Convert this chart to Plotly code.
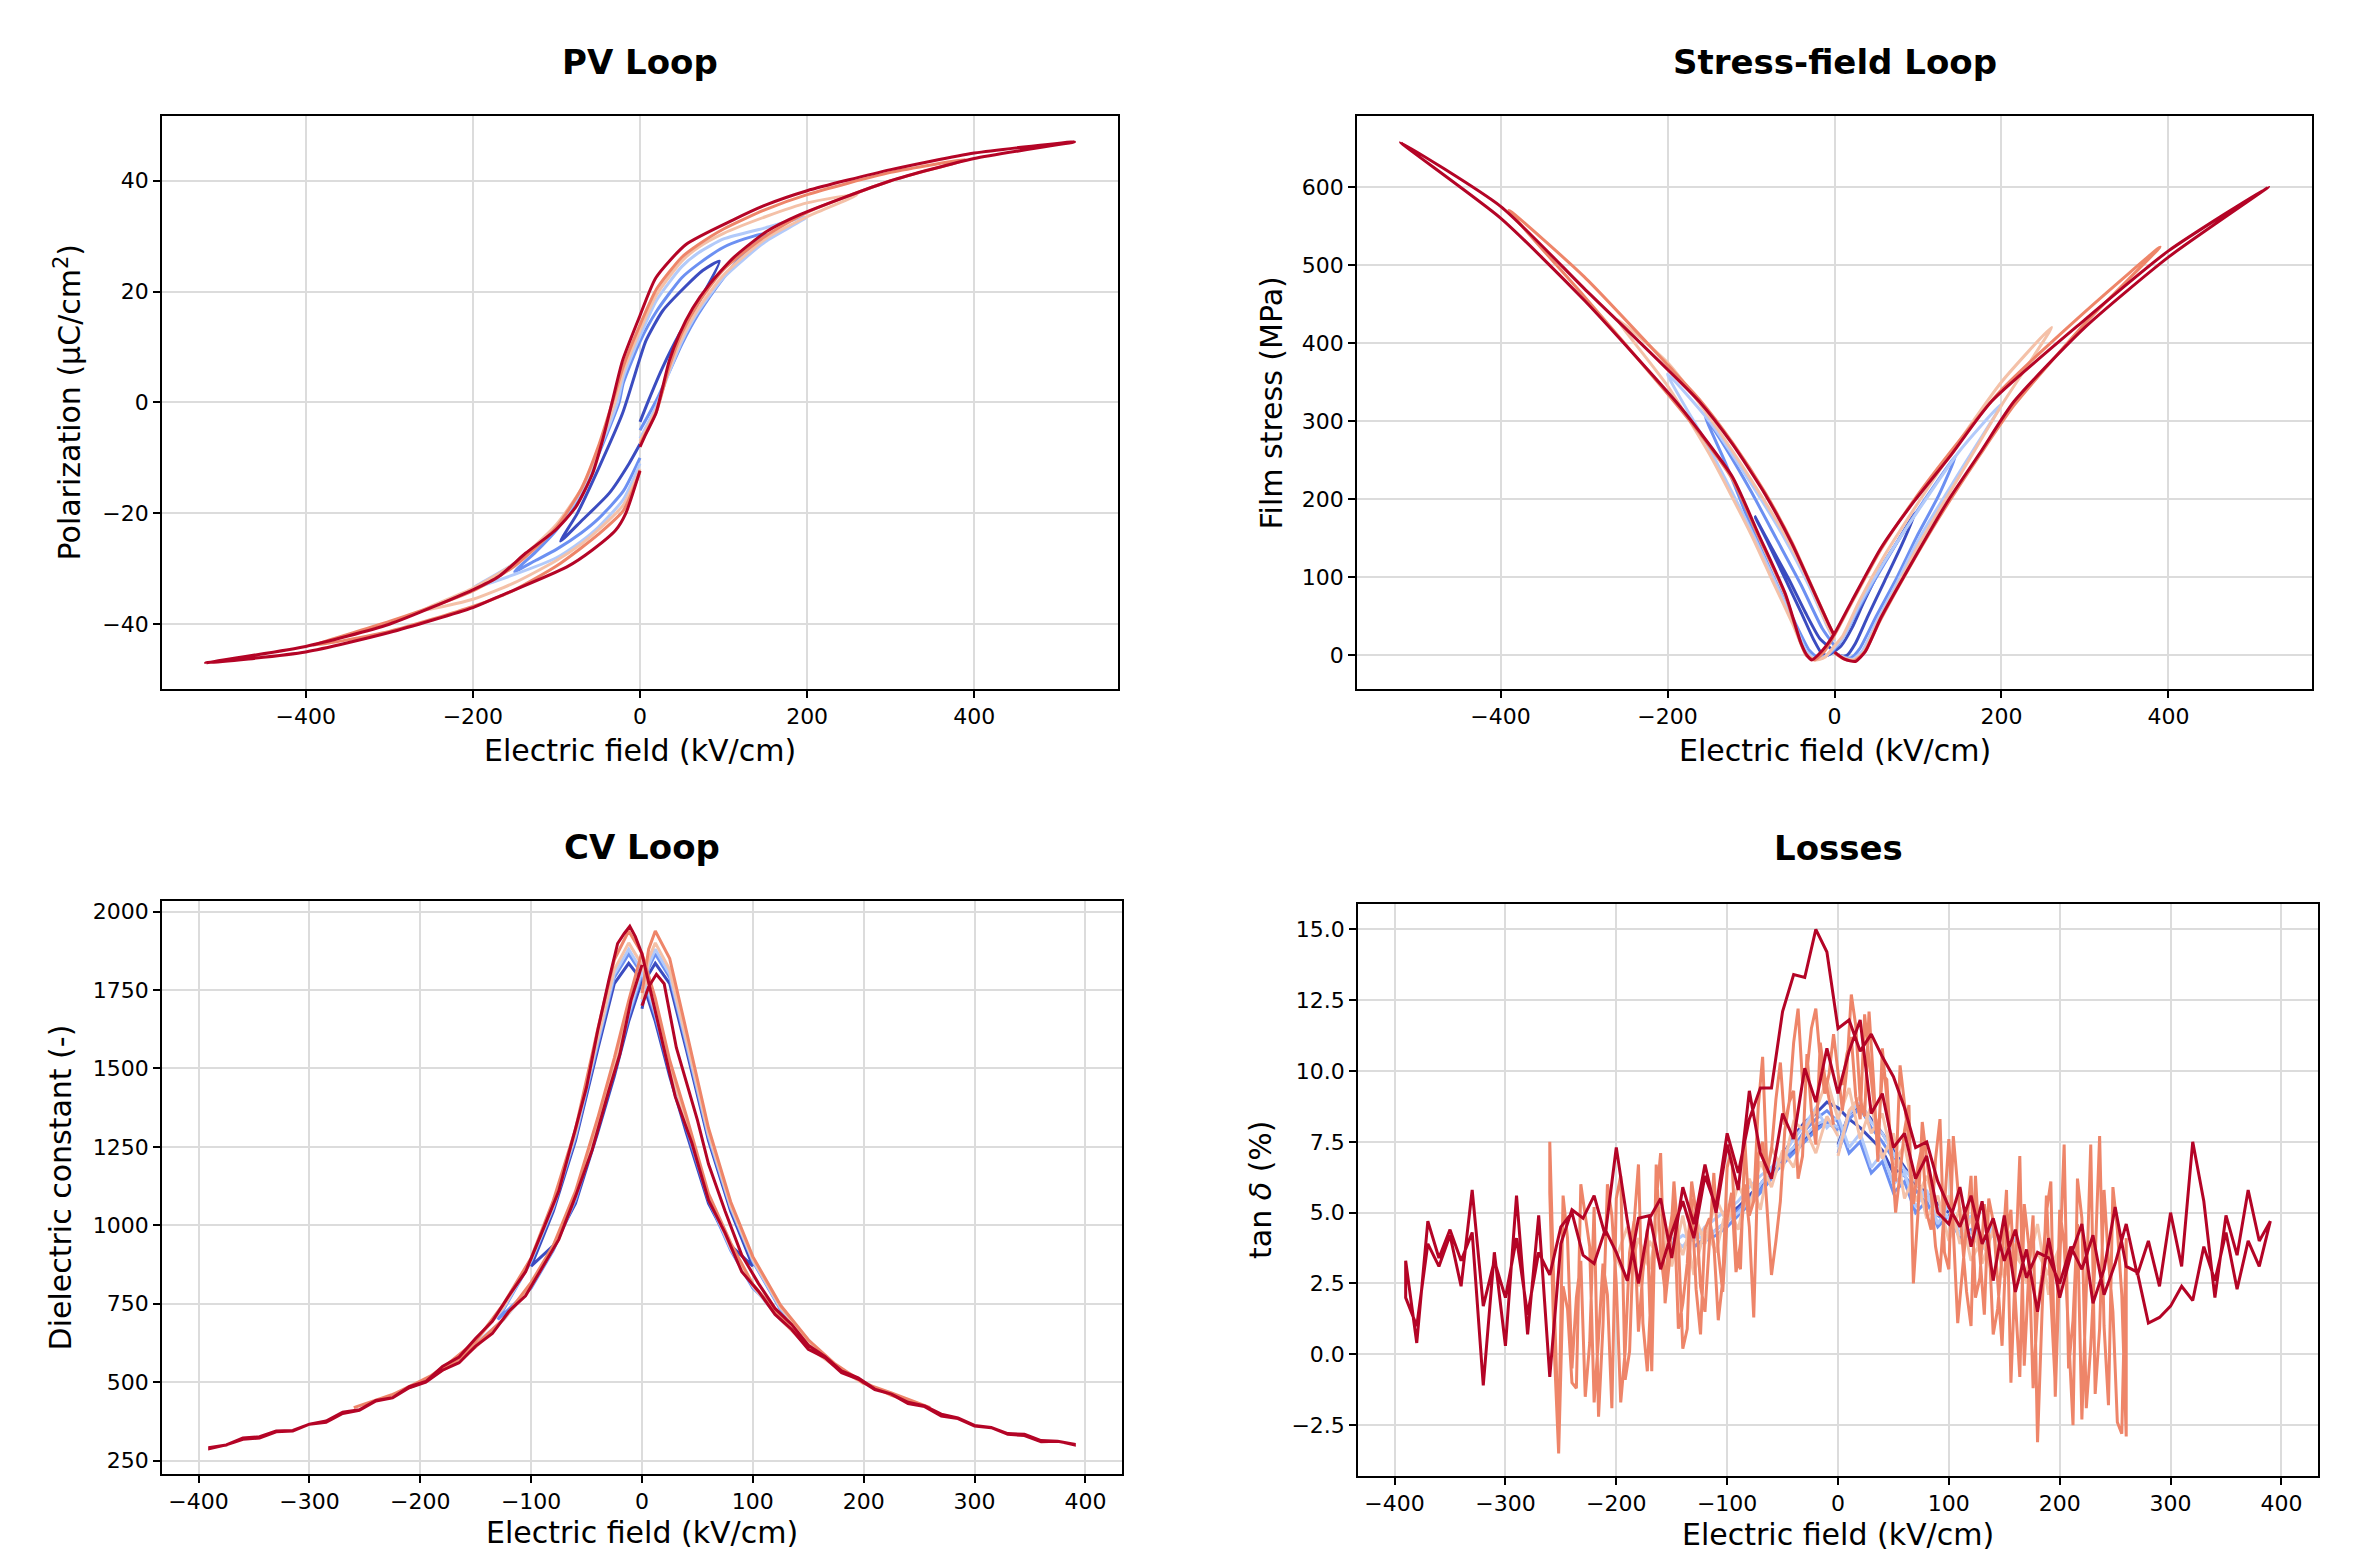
import plotly.graph_objects as go

W, H = 2359, 1554

# coolwarm colours, one per cycle (smallest field amplitude first)
cycle_colors = ["#3b4cc0", "#6c90f2", "#b2cafa", "#f4c1a8", "#ee8569", "#b40426"]

# ---------------- PV loop: field (kV/cm) -> polarization (uC/cm2)
pv_e_0 = [0, 10, 27, 47, 71, 95, 75, 55, 27, 7, 0, -21, -49, -75, -95, -69, -37, -13, 0]
pv_p_0 = [-3.5, 0.3, 6.3, 12.3, 18.3, 25.5, 23.8, 21.0, 16.5, 11.1, 8.0, -2.0, -11.7, -20.0, -25.0, -21.2, -16.4, -11.0, -7.5]
pv_e_1 = [0, 20, 35, 50, 70, 100, 125, 150, 125, 100, 70, 50, 20, 0, -20, -25, -50, -70, -100, -125, -150, -125, -100, -70, -50, -20, 0]
pv_p_1 = [-5.0, 0.5, 5.5, 10.5, 16.0, 22.5, 27.0, 30.5, 29.5, 28.0, 25.0, 22.5, 16.5, 11.0, 3.5, 0.0, -9.5, -16.5, -23.0, -27.0, -30.5, -28.5, -26.5, -23.5, -21.0, -16.0, -10.0]
pv_e_2 = [0, 20, 35, 50, 70, 100, 150, 200, 150, 100, 70, 50, 20, 0, -20, -27, -50, -70, -100, -150, -200, -150, -100, -70, -50, -20, 0]
pv_p_2 = [-6.5, -0.5, 5.5, 11.0, 16.5, 22.5, 29.0, 33.5, 31.5, 29.5, 27.0, 24.5, 18.5, 12.0, 4.5, 0.0, -9.0, -16.0, -22.5, -29.0, -33.5, -31.0, -28.0, -25.0, -22.5, -17.5, -11.0]
pv_e_3 = [0, 20, 35, 50, 70, 100, 150, 200, 260, 200, 150, 100, 70, 50, 20, 0, -20, -30, -50, -70, -100, -150, -200, -260, -200, -150, -100, -70, -50, -20, 0]
pv_p_3 = [-7.0, -1.0, 6.0, 11.5, 17.0, 23.0, 29.5, 33.5, 37.5, 36.0, 33.5, 30.5, 28.0, 25.5, 19.5, 13.0, 5.5, 0.0, -8.5, -15.5, -22.0, -29.0, -33.5, -37.5, -35.5, -32.5, -28.5, -25.5, -23.0, -18.5, -12.0]
pv_e_4 = [0, 20, 35, 50, 70, 100, 150, 200, 300, 390, 300, 200, 150, 100, 70, 50, 20, 0, -20, -33, -50, -70, -100, -150, -200, -300, -390, -300, -200, -150, -100, -70, -50, -20, 0]
pv_p_4 = [-7.5, -1.5, 6.5, 12.5, 18.0, 24.0, 30.0, 34.3, 40.0, 43.8, 41.5, 37.5, 34.8, 31.3, 28.5, 26.2, 20.5, 14.0, 6.5, 0.0, -8.0, -15.5, -22.5, -29.5, -34.0, -39.5, -43.8, -41.3, -36.8, -33.8, -29.5, -26.2, -23.8, -19.5, -12.5]
pv_e_5 = [0, 7, 19, 27, 35, 47, 63, 83, 111, 151, 190, 300, 400, 520, 400, 300, 200, 150, 111, 55, 19, -1, -21, -33, -45, -57, -77, -101, -137, -169, -200, -300, -400, -520, -400, -300, -200, -169, -88, -57, -29, -17, 0]
pv_p_5 = [-8.0, -5.7, -2.0, 2.7, 7.5, 12.3, 17.0, 21.3, 26.0, 30.8, 33.8, 40.0, 44.0, 47.0, 45.0, 42.0, 38.2, 35.6, 32.9, 28.5, 22.5, 15.3, 7.5, 0.3, -6.9, -12.9, -18.9, -23.0, -27.2, -31.4, -33.8, -40.0, -44.0, -47.0, -45.0, -41.5, -37.0, -35.0, -29.7, -26.6, -23.0, -20.0, -12.3]
pv_e = [pv_e_0, pv_e_1, pv_e_2, pv_e_3, pv_e_4, pv_e_5]
pv_p = [pv_p_0, pv_p_1, pv_p_2, pv_p_3, pv_p_4, pv_p_5]

# ---------------- Stress-field loop: field (kV/cm) -> film stress (MPa)
st_e_0 = [0, 8, 15, 25, 40, 60, 80, 97, 75, 56, 35, 21, 8, 0, -8, -15, -25, -40, -60, -80, -95, -75, -55, -35, -18, -7, 0]
st_s_0 = [3, -1, 0, 15, 50, 95, 140, 183, 145, 113, 68, 35, 12, 5, 0, 2, 20, 55, 100, 145, 177, 137, 98, 55, 22, 11, 5]
st_e_1 = [0, 10, 20, 30, 50, 75, 100, 125, 145, 120, 90, 60, 30, 10, 0, -10, -20, -30, -50, -75, -100, -130, -155, -130, -100, -70, -40, -15, 0]
st_s_1 = [3, -2, -3, 8, 50, 100, 155, 205, 255, 218, 170, 118, 62, 22, 8, -1, -3, 6, 48, 105, 165, 245, 306, 265, 210, 150, 90, 35, 12]
st_e_2 = [0, 12, 22, 33, 50, 75, 100, 150, 200, 150, 100, 60, 30, 10, 0, -12, -22, -33, -50, -75, -100, -150, -200, -150, -100, -60, -30, -10, 0]
st_s_2 = [3, -3, -5, 5, 42, 93, 147, 235, 322, 262, 185, 120, 65, 22, 10, -2, -5, 4, 45, 103, 160, 265, 360, 300, 220, 150, 88, 40, 18]
st_e_3 = [0, 12, 23, 35, 50, 75, 100, 150, 200, 260, 200, 150, 100, 60, 30, 10, 0, -12, -23, -35, -50, -75, -100, -150, -200, -260, -200, -150, -100, -60, -30, -10, 0]
st_s_3 = [3, -4, -6, 4, 38, 88, 140, 230, 320, 420, 350, 275, 195, 128, 70, 25, 12, -3, -6, 3, 40, 97, 155, 258, 345, 430, 375, 305, 225, 155, 92, 42, 20]
st_e_4 = [0, 12, 24, 36, 55, 95, 135, 175, 215, 300, 390, 300, 200, 140, 96, 56, 21, 0, -12, -24, -34, -45, -59, -91, -122, -162, -200, -300, -390, -300, -200, -162, -122, -83, -51, -27, -7, 0]
st_s_4 = [3, -5, -7, 4, 45, 122, 193, 258, 320, 425, 523, 440, 340, 262, 200, 136, 68, 26, 5, -6, 0, 30, 77, 152, 225, 285, 335, 460, 570, 485, 372, 328, 272, 208, 145, 88, 40, 24]
st_e_5 = [0, 12, 25, 37, 56, 96, 136, 176, 215, 300, 400, 520, 400, 300, 188, 140, 96, 56, 21, 0, -10, -20, -27, -33, -40, -48, -59, -91, -122, -162, -190, -300, -400, -520, -400, -300, -162, -122, -83, -51, -27, -7, 0]
st_s_5 = [4, -5, -8, 5, 49, 125, 198, 262, 325, 420, 510, 600, 518, 430, 325, 257, 198, 138, 70, 28, 12, 0, -6, 0, 15, 42, 79, 155, 228, 287, 325, 455, 560, 657, 575, 470, 325, 270, 206, 143, 87, 40, 25]
st_e = [st_e_0, st_e_1, st_e_2, st_e_3, st_e_4, st_e_5]
st_s = [st_s_0, st_s_1, st_s_2, st_s_3, st_s_4, st_s_5]

# ---------------- CV loop: field (kV/cm) -> dielectric constant
# each cycle: first rise from 0, sweep down to -Emax, back up to 0
cv_e_start_0 = [0, 6, 12, 25, 40, 60, 80, 100]
cv_v_start_0 = [1690, 1800, 1835, 1770, 1560, 1270, 1045, 870]
cv_e_desc_0 = [100, 80, 60, 40, 25, 12, 0, -12, -25, -40, -60, -80, -100]
cv_v_desc_0 = [870, 935, 1070, 1295, 1475, 1650, 1780, 1835, 1770, 1560, 1270, 1045, 870]
cv_e_asc_0 = [-100, -80, -60, -40, -25, -12, 0]
cv_v_asc_0 = [870, 935, 1070, 1295, 1475, 1650, 1780]

cv_e_start_1 = [0, 6, 12, 25, 40, 60, 80, 100, 130]
cv_v_start_1 = [1700, 1820, 1865, 1790, 1575, 1280, 1055, 885, 700]
cv_e_desc_1 = [130, 100, 80, 60, 40, 25, 12, 0, -12, -25, -40, -60, -80, -100, -130]
cv_v_desc_1 = [700, 800, 920, 1080, 1310, 1490, 1665, 1800, 1865, 1790, 1575, 1280, 1055, 885, 700]
cv_e_asc_1 = [-130, -100, -80, -60, -40, -25, -12, 0]
cv_v_asc_1 = [700, 800, 920, 1080, 1310, 1490, 1665, 1800]

cv_e_start_2 = [0, 6, 12, 25, 40, 60, 80, 100, 125, 160]
cv_v_start_2 = [1710, 1830, 1880, 1800, 1585, 1288, 1060, 888, 735, 595]
cv_e_desc_2 = [160, 125, 100, 80, 60, 40, 25, 12, 0, -12, -25, -40, -60, -80, -100, -125, -160]
cv_v_desc_2 = [595, 698, 805, 925, 1088, 1320, 1500, 1675, 1810, 1880, 1800, 1585, 1288, 1060, 888, 735, 595]
cv_e_asc_2 = [-160, -125, -100, -80, -60, -40, -25, -12, 0]
cv_v_asc_2 = [595, 698, 805, 925, 1088, 1320, 1500, 1675, 1810]

cv_e_start_3 = [0, 6, 12, 25, 40, 60, 80, 100, 125, 150, 175, 200]
cv_v_start_3 = [1720, 1850, 1900, 1815, 1595, 1295, 1065, 893, 740, 630, 552, 495]
cv_e_desc_3 = [200, 175, 150, 125, 100, 80, 60, 40, 25, 12, 0, -12, -25, -40, -60, -80, -100, -125, -150, -175, -200]
cv_v_desc_3 = [495, 548, 612, 700, 808, 930, 1095, 1330, 1510, 1690, 1830, 1900, 1815, 1595, 1295, 1065, 893, 740, 630, 552, 495]
cv_e_asc_3 = [-200, -175, -150, -125, -100, -80, -60, -40, -25, -12, 0]
cv_v_asc_3 = [495, 548, 612, 700, 808, 930, 1095, 1330, 1510, 1690, 1830]

cv_e_start_4 = [0, 6, 12, 25, 40, 60, 80, 100, 125, 150, 175, 200, 225, 260]
cv_v_start_4 = [1740, 1880, 1938, 1850, 1620, 1310, 1075, 900, 745, 635, 555, 500, 458, 419]
cv_e_desc_4 = [260, 225, 200, 175, 150, 125, 100, 80, 60, 40, 25, 12, 0, -12, -25, -40, -60, -80, -100, -125, -150, -175, -200, -225, -260]
cv_v_desc_4 = [419, 466, 497, 556, 611, 709, 812, 944, 1101, 1349, 1526, 1724, 1866, 1938, 1846, 1624, 1306, 1079, 896, 749, 631, 559, 497, 461, 419]
cv_e_asc_4 = [-260, -225, -200, -175, -150, -125, -100, -80, -60, -40, -25, -12, 0]
cv_v_asc_4 = [419, 460, 503, 548, 618, 701, 818, 936, 1108, 1341, 1533, 1716, 1872]

cv_e_start_5 = [0, 6, 13, 20, 31, 40, 50, 60, 75, 90, 105, 120, 135, 150, 165, 180, 195, 210, 225, 240, 255, 270, 285, 300, 315, 330, 345, 360, 375, 390]
cv_v_start_5 = [1700, 1760, 1800, 1770, 1566, 1460, 1335, 1195, 1045, 905, 815, 735, 684, 618, 582, 536, 514, 478, 462, 436, 424, 398, 386, 362, 356, 336, 334, 314, 312, 302]
cv_e_desc_5 = [390, 375, 360, 345, 330, 315, 300, 285, 270, 255, 240, 225, 210, 195, 180, 165, 150, 135, 120, 105, 90, 75, 60, 45, 30, 20, 10, 0,
               -6, -11, -16, -22, -30, -40, -50, -60, -75, -90, -105, -120, -135, -150, -165, -180, -195, -210, -225, -240, -255, -270, -285, -300, -315, -330, -345, -360, -375, -390]
cv_v_desc_5 = [300, 312, 310, 330, 334, 355, 360, 384, 392, 422, 432, 462, 476, 510, 530, 578, 605, 668, 716, 790, 852, 975, 1080, 1262, 1410, 1560, 1712, 1865,
               1920, 1953, 1930, 1898, 1780, 1620, 1440, 1310, 1110, 980, 852, 776, 694, 640, 580, 550, 502, 486, 450, 442, 412, 404, 376, 366, 346, 344, 326, 322, 300, 292]
cv_e_asc_5 = [-390, -375, -360, -345, -330, -315, -300, -285, -270, -255, -240, -225, -210, -195, -180, -165, -150, -135, -120, -105, -90, -75, -60, -45, -30, -20, -10, 0]
cv_v_asc_5 = [288, 300, 318, 322, 342, 344, 366, 372, 400, 410, 440, 450, 482, 500, 538, 562, 615, 655, 726, 775, 865, 955, 1092, 1240, 1428, 1545, 1716, 1830]

cv_e = [cv_e_start_0 + cv_e_desc_0 + cv_e_asc_0,
        cv_e_start_1 + cv_e_desc_1 + cv_e_asc_1,
        cv_e_start_2 + cv_e_desc_2 + cv_e_asc_2,
        cv_e_start_3 + cv_e_desc_3 + cv_e_asc_3,
        cv_e_start_4 + cv_e_desc_4 + cv_e_asc_4,
        cv_e_start_5 + cv_e_desc_5 + cv_e_asc_5]
cv_v = [cv_v_start_0 + cv_v_desc_0 + cv_v_asc_0,
        cv_v_start_1 + cv_v_desc_1 + cv_v_asc_1,
        cv_v_start_2 + cv_v_desc_2 + cv_v_asc_2,
        cv_v_start_3 + cv_v_desc_3 + cv_v_asc_3,
        cv_v_start_4 + cv_v_desc_4 + cv_v_asc_4,
        cv_v_start_5 + cv_v_desc_5 + cv_v_asc_5]

# ---------------- Losses: field grids (kV/cm) and tan delta (%)
loss_grid_10 = [390, 380, 370, 360, 350, 340, 330, 320, 310, 300, 290, 280, 270, 260, 250, 240, 230, 220, 210, 200,
                190, 180, 170, 160, 150, 140, 130, 120, 110, 100, 90, 80, 70, 60, 50, 40, 30, 20, 10, 0,
                -10, -20, -30, -40, -50, -60, -70, -80, -90, -100, -110, -120, -130, -140, -150, -160, -170, -180, -190, -200,
                -210, -220, -230, -240, -250, -260, -270, -280, -290, -300, -310, -320, -330, -340, -350, -360, -370, -380, -390]
loss_grid_4 = [260, 256, 252, 248, 244, 240, 236, 232, 228, 224, 220, 216, 212, 208, 204, 200, 196, 192, 188, 184,
               180, 176, 172, 168, 164, 160, 156, 152, 148, 144, 140, 136, 132, 128, 124, 120, 116, 112, 108, 104,
               100, 96, 92, 88, 84, 80, 76, 72, 68, 64, 60, 56, 52, 48, 44, 40, 36, 32, 28, 24, 20, 16, 12, 8, 4,
               -4, -8, -12, -16, -20, -24, -28, -32, -36, -40, -44, -48, -52, -56, -60, -64, -68, -72, -76, -80,
               -84, -88, -92, -96, -100, -104, -108, -112, -116, -120, -124, -128, -132, -136, -140, -144, -148, -152, -156, -160,
               -164, -168, -172, -176, -180, -184, -188, -192, -196, -200, -204, -208, -212, -216, -220, -224, -228, -232, -236, -240,
               -244, -248, -252, -256, -260]

tan_desc_0 = [5.0, 5.3, 5.7, 6.0, 6.6, 6.4, 7.2, 7.6, 8.0, 8.3, 8.7, 8.9, 8.5, 8.2, 7.7, 7.0, 6.5, 6.0, 5.6, 5.2, 4.9]
tan_asc_0 = [4.9, 5.1, 5.5, 5.9, 6.4, 6.8, 7.2, 7.6, 8.0, 8.2, 8.0]
tan_start_0 = [7.4, 8.5, 8.8, 8.3, 7.8, 7.2, 6.6, 6.1, 5.6, 5.3, 5.0]

tan_desc_1 = [3.9, 4.4, 4.1, 4.9, 4.5, 5.4, 5.0, 6.1, 5.7, 6.8, 6.4, 7.5, 7.1, 8.2, 8.6, 8.3, 7.9, 7.3, 6.8, 6.2, 5.7, 5.3, 4.9, 4.5, 4.2, 4.0, 3.8]
tan_asc_1 = [3.8, 4.1, 4.4, 4.7, 5.1, 5.5, 5.8, 6.3, 6.7, 7.1, 7.5, 7.9, 8.2, 7.9]
tan_start_1 = [7.1, 8.3, 8.7, 8.0, 7.5, 6.9, 6.3, 5.8, 5.3, 4.9, 4.6, 4.3, 4.1, 3.9]

tan_desc_2 = [4.1, 3.4, 4.6, 3.7, 4.9, 4.2, 5.3, 4.6, 5.8, 5.2, 6.4, 6.0, 7.1, 6.6, 7.8, 7.3, 8.4, 8.0, 8.7, 8.1,
              7.6, 7.0, 6.5, 6.0, 5.4, 5.0, 4.7, 4.4, 4.0, 4.3, 3.8, 4.1, 3.6]
tan_asc_2 = [3.6, 3.9, 4.2, 4.0, 4.5, 4.8, 5.1, 5.4, 5.9, 6.3, 6.6, 7.0, 7.3, 7.7, 8.1, 8.3, 8.0]
tan_start_2 = [7.3, 8.5, 8.9, 8.2, 7.8, 7.1, 6.5, 6.1, 5.5, 5.2, 4.8, 4.5, 4.3, 3.9, 4.2, 3.7, 4.1]

tan_desc_3 = [3.8, 2.1, 4.6, 2.9, 3.5, 4.8, 2.7, 4.1, 3.3, 5.2, 4.0, 5.6, 4.8, 6.4, 5.5, 7.8, 6.9, 8.8, 7.6, 9.4, 8.3,
              9.7, 8.6, 7.9, 8.2, 6.5, 7.3, 5.1, 6.2, 4.4, 5.3, 3.6, 4.5, 2.8, 4.9, 3.1, 5.2, 3.0, 4.1, 2.6, 3.4]
tan_asc_3 = [3.4, 4.5, 2.4, 4.0, 3.2, 4.7, 3.5, 5.0, 3.9, 5.5, 4.6, 6.0, 5.1, 6.8, 5.9, 7.2, 6.6, 8.0, 7.1, 8.4, 7.7]
tan_start_3 = [7.0, 8.6, 9.1, 7.8, 8.5, 6.7, 7.4, 5.4, 6.3, 4.9, 5.6, 3.9, 4.8, 3.2, 4.4, 2.7, 3.9, 2.5, 3.6, 2.8, 3.8]

tan_desc_4 = [-2.9, 2.1, 4.4, 5.9, -1.8, 1.0, 7.7, 3.4, 0.3, -1.9, 4.8, 6.2, -2.5, 0.8, 3.9, 5.1, -1.1, 2.0, 5.6, 1.4,
              -3.1, 4.9, 2.8, -0.4, 7.0, 3.1, -1.0, 5.8, 3.5, 1.6, 0.7, 4.2, 5.3, 2.7, 2.0, 6.3, 4.6, 3.0, 1.1, 4.4,
              7.6, 5.2, 2.9, 3.8, 5.7, 6.9, 8.2, 4.9, 2.5, 8.8, 7.9, 6.4, 5.0, 7.3, 9.1, 10.8, 6.8, 9.7, 12.1, 8.4,
              9.0, 11.6, 12.7, 10.1, 8.6,
              11.3, 9.9, 9.2, 10.4, 12.2, 11.5, 10.0, 9.6, 12.2, 11.0, 8.9, 8.1, 10.3, 9.0, 7.2, 6.4, 10.5, 8.7, 5.4, 4.9,
              7.5, 3.0, 3.6, 7.2, 6.6, 2.6, 1.2, 3.9, 4.8, 4.4, 0.7, 2.3, 5.5, 0.9, 0.2, 4.0, 6.1, 3.3, 1.8, 7.1,
              5.4, 2.7, -0.6, 1.1, 6.7, 4.6, 0.1, -0.9, 6.3, 5.5, -1.9, 2.1, 3.2, 0.6, -1.7, 3.8, 4.9, 6.0, -1.2, -1.0,
              1.6, 2.4, -3.5, 0.2, 5.7]
tan_asc_4 = [7.5, 1.9, -3.0, 5.6, 4.1, -0.5, 2.0, 3.3, -1.5, 0.4, 5.2, -2.2, 1.0, 6.0, 4.9, 2.5, -1.7, 0.1, 3.6, 4.7,
             0.8, 2.9, 4.4, -0.6, 6.7, 3.6, 2.2, 4.3, 5.4, 0.9, 1.8, 3.2, 6.1, 5.0, 2.4, 1.5, 4.0, 6.4, 3.6, 2.2,
             4.8, 5.7, 2.9, 3.9, 6.0, 4.5, 1.3, 7.0, 7.5, 5.1, 2.8, 4.0, 5.4, 7.9, 8.9, 9.3, 6.2, 7.0, 10.6, 8.6,
             7.4, 11.0, 9.8, 9.0, 8.1]
tan_start_4 = [9.5, 10.6, 11.2, 9.1, 8.3, 12.0, 10.4, 8.9, 7.6, 9.9, 9.7, 7.0, 6.1, 10.2, 8.8, 7.5, 5.3, 6.6, 7.4, 5.0,
               4.4, 6.9, 8.3, 3.6, 3.0, 7.7, 5.9, 4.1, 2.2, 1.0, 6.3, 3.5, 1.4, 5.5, 4.7, 2.6, 0.3, 4.2, 5.1, 1.9,
               -0.8, 5.3, 3.9, -1.2, 1.6, 2.8, 5.0, 6.1, -1.5, 3.2, 7.4, -0.5, 1.2, 4.6, -2.3, 2.3, 7.4, -1.4, 0.9, 5.8,
               3.3, 1.5, -2.4, -2.8, 4.1]

tan_desc_5 = [4.7, 4.0, 5.8, 3.5, 4.9, 2.0, 5.4, 7.5, 3.1, 5.0, 2.4, 4.0, 2.8, 4.6, 3.2, 2.1, 4.2, 3.0, 3.8, 2.5,
              3.4, 3.6, 2.7, 4.4, 3.3, 4.8, 3.9, 5.6, 4.5, 5.2, 6.1, 7.5, 7.3, 8.7, 9.8, 10.5, 11.3, 10.7, 11.8, 11.5,
              14.2, 15.0, 13.3, 13.4, 12.1, 9.4, 9.4, 8.3, 6.4, 7.8, 5.2, 6.3, 4.1, 5.4, 4.3, 3.0, 4.9, 4.8, 2.6, 3.6,
              4.4, 3.2, 3.5, 5.0, 4.5, 2.8, 3.6, 1.4, 4.1, 2.0, 3.3, 1.7, 5.8, 2.4, 4.2, 3.1, 3.9, 1.0, 2.0]
tan_asc_5 = [3.3, 0.4, 4.7, 3.4, 4.4, 3.3, 4.3, -1.1, 3.6, 0.3, 5.6, 0.7, 4.9, -0.8, 3.9, 5.1, 4.8, 5.6, 4.2, 7.3,
             4.7, 2.5, 4.8, 5.5, 3.4, 5.9, 4.6, 6.7, 5.0, 7.4, 5.8, 9.3, 7.1, 6.2, 8.5, 7.6, 10.1, 8.9, 10.8, 9.2]
tan_start_5 = [9.2, 10.7, 11.8, 8.5, 9.2, 7.3, 7.8, 6.2, 7.0, 5.0, 4.6, 5.9, 3.8, 5.4, 2.6, 4.9, 2.2, 3.7, 1.5, 4.1,
               2.0, 3.5, 4.6, 1.8, 3.0, 5.2, 3.1, 2.9, 1.1, 1.3, 1.7, 2.4, 1.9, 3.8, 2.6, 4.3, 2.3, 4.0, 3.1, 4.6]

loss_grids = [loss_grid_10[29:50], loss_grid_10[26:53], loss_grid_10[23:56], loss_grid_10[19:60], loss_grid_4, loss_grid_10]
tan_desc = [tan_desc_0, tan_desc_1, tan_desc_2, tan_desc_3, tan_desc_4, tan_desc_5]
tan_asc = [tan_asc_0, tan_asc_1, tan_asc_2, tan_asc_3, tan_asc_4, tan_asc_5]
tan_start = [tan_start_0, tan_start_1, tan_start_2, tan_start_3, tan_start_4, tan_start_5]


def halves(grid):
    # positive half (0 -> +Emax) and negative half (-Emax -> 0) of a descending grid
    if 0 in grid:
        h = grid.index(0)
        return grid[:h + 1][::-1], grid[h:][::-1]
    h = len(grid) // 2
    return grid[:h][::-1], grid[h:][::-1]


fig = go.Figure()

for i in range(6):
    fig.add_trace(go.Scatter(x=pv_e[i], y=pv_p[i], mode="lines", xaxis="x", yaxis="y",
                             line=dict(color=cycle_colors[i], width=3, shape="spline", smoothing=0.6)))
    fig.add_trace(go.Scatter(x=st_e[i], y=st_s[i], mode="lines", xaxis="x2", yaxis="y2",
                             line=dict(color=cycle_colors[i], width=3, shape="spline", smoothing=0.6)))
    fig.add_trace(go.Scatter(x=cv_e[i], y=cv_v[i], mode="lines", xaxis="x3", yaxis="y3",
                             line=dict(color=cycle_colors[i], width=3)))
    pos, neg = halves(loss_grids[i])
    fig.add_trace(go.Scatter(x=pos + loss_grids[i] + neg,
                             y=tan_start[i] + tan_desc[i] + tan_asc[i],
                             mode="lines", xaxis="x4", yaxis="y4",
                             line=dict(color=cycle_colors[i], width=3)))

# plot boxes in pixels: left, right, top, bottom
boxes = [(162, 1118, 114, 688), (1357, 2312, 114, 688), (162, 1122, 900, 1474), (1358, 2318, 903, 1476)]
x_ranges = [[-572, 572], [-572, 572], [-433, 433], [-433, 433]]
y_ranges = [[-51.7, 51.7], [-43.4, 691], [207, 2034], [-4.3, 15.9]]
x_dticks = [200, 200, 100, 100]
y_ticks = [dict(dtick=20), dict(dtick=100), dict(tick0=250, dtick=250, tickformat="d"), dict(dtick=2.5, tickformat=".1f")]

font_family = "DejaVu Sans"
axis_style = dict(showline=True, mirror=True, linecolor="black", linewidth=1.6,
                  ticks="outside", ticklen=7, tickwidth=1.6, tickcolor="black",
                  showgrid=True, gridcolor="#dcdcdc", gridwidth=1.5, zeroline=False,
                  tickfont=dict(family=font_family, size=22, color="black"))

layout_axes = {}
for k, (l, r, t, b) in enumerate(boxes):
    n = "" if k == 0 else str(k + 1)
    layout_axes["xaxis" + n] = dict(axis_style, domain=[l / W, r / W], range=x_ranges[k], dtick=x_dticks[k],
                                    anchor="y" + n)
    layout_axes["yaxis" + n] = dict(axis_style, domain=[1 - b / H, 1 - t / H], range=y_ranges[k],
                                    anchor="x" + n, **y_ticks[k])

titles = ["PV Loop", "Stress-field Loop", "CV Loop", "Losses"]
y_labels = ["Polarization (µC/cm<sup>2</sup>)", "Film stress (MPa)", "Dielectric constant (-)", "tan <i>δ</i> (%)"]
title_y = [60, 60, 846, 847]
xlabel_y = [749, 749, 1532, 1534]
ylabel_x = [68, 1271, 60, 1261]

ann = []
for k, (l, r, t, b) in enumerate(boxes):
    cx = (l + r) / 2
    ann.append(dict(text="<b>" + titles[k] + "</b>", x=cx / W, y=1 - title_y[k] / H, xref="paper", yref="paper",
                    showarrow=False, xanchor="center", yanchor="middle",
                    font=dict(family=font_family, size=34, color="black")))
    ann.append(dict(text="Electric field (kV/cm)", x=cx / W, y=1 - xlabel_y[k] / H, xref="paper", yref="paper",
                    showarrow=False, xanchor="center", yanchor="middle",
                    font=dict(family=font_family, size=30, color="black")))
    ann.append(dict(text=y_labels[k], x=ylabel_x[k] / W, y=1 - (t + b) / 2 / H, xref="paper", yref="paper",
                    showarrow=False, xanchor="center", yanchor="middle", textangle=-90,
                    font=dict(family=font_family, size=30, color="black")))

fig.update_layout(width=W, height=H, margin=dict(l=0, r=0, t=0, b=0),
                  paper_bgcolor="white", plot_bgcolor="white", showlegend=False,
                  annotations=ann, **layout_axes)

fig.write_html("out.html", config={"displayModeBar": False},
               post_script="document.body.style.margin='0';")
